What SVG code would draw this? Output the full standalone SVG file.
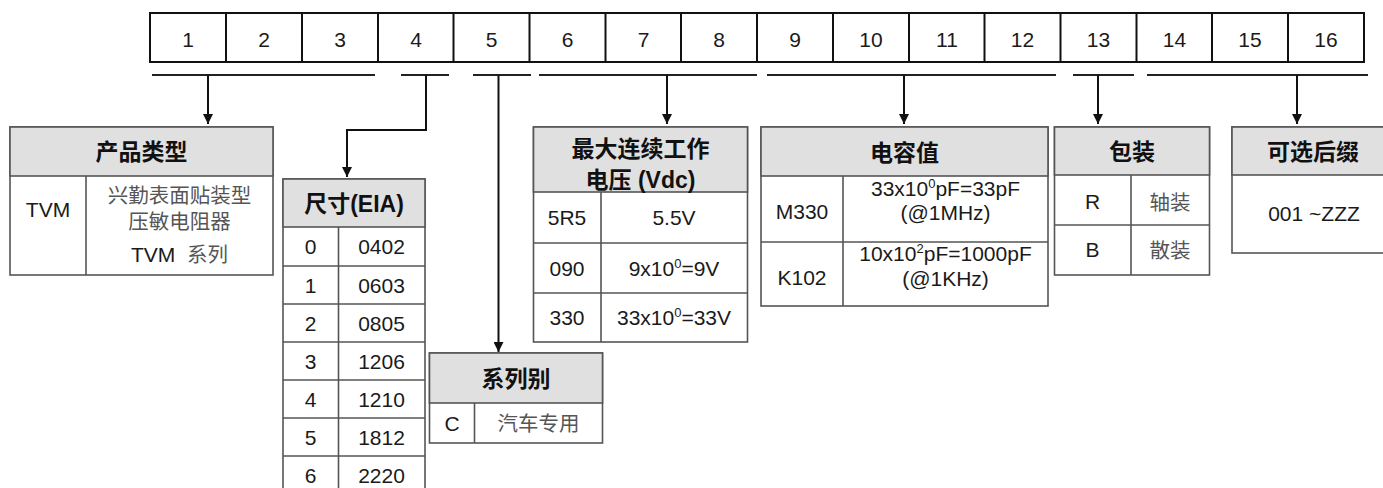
<svg xmlns="http://www.w3.org/2000/svg" width="1383" height="488" viewBox="0 0 1383 488">
<defs>
<marker id="ah" viewBox="0 0 10 10" refX="10" refY="5" markerWidth="10" markerHeight="10" markerUnits="userSpaceOnUse" orient="auto">
<path d="M0,0 L10,5 L0,10 z" fill="#111"/>
</marker>
</defs>
<style>
.cell{fill:#fff;stroke:#111;stroke-width:2}
.num{font-family:"Liberation Sans",Arial,sans-serif;font-size:21px;fill:#1a1a1a;text-anchor:middle}
.bar{stroke:#222;stroke-width:2;fill:none}
.conn{stroke:#111;stroke-width:2;fill:none;marker-end:url(#ah)}
.tb{fill:#fff;stroke:#555;stroke-width:1.6}
.hd{fill:#e0e0e0;stroke:#555;stroke-width:1.6}
.ln{stroke:#555;stroke-width:1.6;fill:none}
.h{font-family:"Liberation Sans","Noto Sans CJK SC",sans-serif;font-size:23px;font-weight:bold;fill:#111;text-anchor:middle}
.t{font-family:"Liberation Sans","Noto Sans CJK SC",sans-serif;font-size:21px;fill:#1a1a1a;text-anchor:middle}
.c{font-family:"Liberation Sans","Noto Sans CJK SC",sans-serif;font-size:20.5px;fill:#555;text-anchor:middle}
</style>
<g id="code-row">
<rect class="cell" x="150" y="13" width="1214" height="49"/>
<path class="cell" d="M226,13V62M302,13V62M378,13V62M453.5,13V62M529.5,13V62M605.5,13V62M681,13V62M757,13V62M833,13V62M909,13V62M984.5,13V62M1060.5,13V62M1136.5,13V62M1212,13V62M1288,13V62"/>
<text class="num" x="188" y="47">1</text>
<text class="num" x="264" y="47">2</text>
<text class="num" x="340" y="47">3</text>
<text class="num" x="416" y="47">4</text>
<text class="num" x="491.5" y="47">5</text>
<text class="num" x="567.5" y="47">6</text>
<text class="num" x="643.5" y="47">7</text>
<text class="num" x="719" y="47">8</text>
<text class="num" x="795" y="47">9</text>
<text class="num" x="871" y="47">10</text>
<text class="num" x="947" y="47">11</text>
<text class="num" x="1022.5" y="47">12</text>
<text class="num" x="1098.5" y="47">13</text>
<text class="num" x="1174.5" y="47">14</text>
<text class="num" x="1250" y="47">15</text>
<text class="num" x="1326" y="47">16</text>
</g>
<g id="connectors">
<path class="bar" d="M152,75H375M401,75H449M473,75H531M539,75H757M767,75H1056M1073,75H1134M1147,75H1368"/>
<path class="conn" d="M208,75V124"/>
<path class="conn" d="M426,75V130H347V177"/>
<path class="conn" d="M498.5,75V352"/>
<path class="conn" d="M667,75V124"/>
<path class="conn" d="M904,75V124"/>
<path class="conn" d="M1098,75V124"/>
<path class="conn" d="M1297,75V124"/>
</g>
<g id="product-type">
<rect class="tb" x="10" y="127" width="263" height="148"/>
<rect class="hd" x="10" y="127" width="263" height="49"/>
<path class="ln" d="M86,176V275"/>
<text class="h" x="141.5" y="160">产品类型</text>
<text class="t" x="48" y="217">TVM</text>
<text class="c" x="179.5" y="203">兴勤表面贴装型</text>
<text class="c" x="179.5" y="229">压敏电阻器</text>
<text class="t" x="179.5" y="262" xml:space="preserve">TVM  <tspan font-size="20.5" fill="#555">系列</tspan></text>
</g>
<g id="size">
<rect class="tb" x="283" y="179" width="142" height="330"/>
<rect class="hd" x="283" y="179" width="142" height="48"/>
<path class="ln" d="M338.5,227V509M283,266H425M283,304H425M283,342H425M283,380H425M283,418H425M283,456H425M283,494H425"/>
<text class="h" x="354" y="212">尺寸(EIA)</text>
<text class="t" x="310.5" y="254">0</text><text class="t" x="381.5" y="254">0402</text>
<text class="t" x="310.5" y="292.5">1</text><text class="t" x="381.5" y="292.5">0603</text>
<text class="t" x="310.5" y="330.5">2</text><text class="t" x="381.5" y="330.5">0805</text>
<text class="t" x="310.5" y="368.5">3</text><text class="t" x="381.5" y="368.5">1206</text>
<text class="t" x="310.5" y="406.5">4</text><text class="t" x="381.5" y="406.5">1210</text>
<text class="t" x="310.5" y="444.5">5</text><text class="t" x="381.5" y="444.5">1812</text>
<text class="t" x="310.5" y="482.5">6</text><text class="t" x="381.5" y="482.5">2220</text>
</g>
<g id="series">
<rect class="tb" x="429.5" y="353" width="173" height="90"/>
<rect class="hd" x="429.5" y="353" width="173" height="50"/>
<path class="ln" d="M474.5,403V443"/>
<text class="h" x="516" y="387">系列别</text>
<text class="t" x="452" y="430.5">C</text>
<text class="c" x="538.5" y="431">汽车专用</text>
</g>
<g id="voltage">
<rect class="tb" x="533.5" y="127" width="214" height="215"/>
<rect class="hd" x="533.5" y="127" width="214" height="65"/>
<path class="ln" d="M601,192V342M533.5,243H747.5M533.5,293H747.5"/>
<text class="h" x="640.5" y="156.5">最大连续工作</text>
<text class="h" x="640.5" y="188">电压 (Vdc)</text>
<text class="t" x="567" y="225">5R5</text><text class="t" x="674" y="225">5.5V</text>
<text class="t" x="567" y="275.5">090</text><text class="t" x="674" y="275.5">9x10<tspan font-size="13" dy="-8">0</tspan><tspan dy="8">=9V</tspan></text>
<text class="t" x="567" y="325">330</text><text class="t" x="674" y="325">33x10<tspan font-size="13" dy="-8">0</tspan><tspan dy="8">=33V</tspan></text>
</g>
<g id="capacitance">
<rect class="tb" x="761" y="127" width="287" height="179"/>
<rect class="hd" x="761" y="127" width="287" height="49"/>
<path class="ln" d="M843,176V306M761,242H1048"/>
<text class="h" x="904.5" y="160.5">电容值</text>
<text class="t" x="802" y="219">M330</text>
<text class="t" x="945.5" y="195.5">33x10<tspan font-size="13" dy="-8">0</tspan><tspan dy="8">pF=33pF</tspan></text>
<text class="t" x="945.5" y="220">(@1MHz)</text>
<text class="t" x="802" y="285">K102</text>
<text class="t" x="945.5" y="261">10x10<tspan font-size="13" dy="-8">2</tspan><tspan dy="8">pF=1000pF</tspan></text>
<text class="t" x="945.5" y="285.5">(@1KHz)</text>
</g>
<g id="packing">
<rect class="tb" x="1054.5" y="127" width="155" height="148"/>
<rect class="hd" x="1054.5" y="127" width="155" height="48"/>
<path class="ln" d="M1131,175V275M1054.5,225H1209.5"/>
<text class="h" x="1132" y="160">包装</text>
<text class="t" x="1092.5" y="209">R</text><text class="c" x="1170" y="209.5">轴装</text>
<text class="t" x="1092.5" y="257">B</text><text class="c" x="1170" y="257.5">散装</text>
</g>
<g id="suffix">
<rect class="tb" x="1232" y="127" width="170" height="126"/>
<rect class="hd" x="1232" y="127" width="170" height="48"/>
<text class="h" x="1313" y="160">可选后缀</text>
<text class="t" x="1314" y="221">001 ~ZZZ</text>
</g>
</svg>
